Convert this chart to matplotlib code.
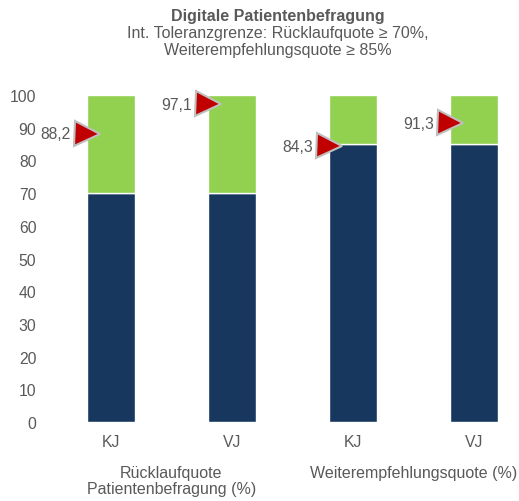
import numpy as np
import matplotlib
matplotlib.use("Agg")
import matplotlib.pyplot as plt

plt.rcParams['font.family'] = ['Liberation Sans', 'DejaVu Sans']

# data
categories = ['KJ', 'VJ', 'KJ', 'VJ']
groups = ['Rücklaufquote\nPatientenbefragung (%)', 'Weiterempfehlungsquote (%)']
tolerance = [70, 70, 85, 85]
values = [88.2, 97.1, 84.3, 91.3]
value_labels = ['88,2', '97,1', '84,3', '91,3']

navy = '#17375E'
green = '#92D050'
red = '#C00000'
grey = '#595959'

fig = plt.figure(figsize=(5.19, 5.02), dpi=100)
ax = fig.add_axes([42/519, 79/502, 477/519, 327/502])

x = np.arange(len(categories))
w = 0.397
ax.bar(x, tolerance, width=w, color=navy, edgecolor='white', linewidth=1)
ax.bar(x, [100 - t for t in tolerance], bottom=tolerance, width=w,
       color=green, edgecolor='white', linewidth=1)

# markers for the actual values
for xi, v, lab in zip(x, values, value_labels):
    ax.plot(xi - w/2, v, marker='>', markersize=18, mfc=red, mec='#BFBFBF',
            mew=1.5, clip_on=False, zorder=5)
    ax.annotate(lab, xy=(xi - w/2, v), xytext=(-11.5, 0), textcoords='offset points',
                ha='right', va='center', fontsize=11.3, color=grey)

ax.set_xlim(-0.570, 3.372)
ax.set_ylim(0, 100)
ax.set_yticks(range(0, 101, 10))
ax.set_xticks(x)
ax.set_xticklabels(categories)
ax.tick_params(axis='both', length=0, labelsize=11.3, colors=grey)
ax.tick_params(axis='y', pad=4)
ax.tick_params(axis='x', pad=9)
for s in ax.spines.values():
    s.set_visible(False)

# group labels
for gi, g in enumerate(groups):
    ax.text(gi*2 + 0.5, -0.132, g, transform=ax.get_xaxis_transform(),
            ha='center', va='top', fontsize=11.5, color=grey, linespacing=1.1)

fig.text(278/519, 1 - 17/502, 'Digitale Patientenbefragung', ha='center', va='center',
         fontsize=11.5, fontweight='bold', color=grey)
fig.text(278/519, 1 - 42/502, 'Int. Toleranzgrenze: Rücklaufquote ≥ 70%,\nWeiterempfehlungsquote ≥ 85%',
         ha='center', va='center', fontsize=11.5, color=grey, linespacing=1.15)

fig.savefig('out.png', dpi=100)
